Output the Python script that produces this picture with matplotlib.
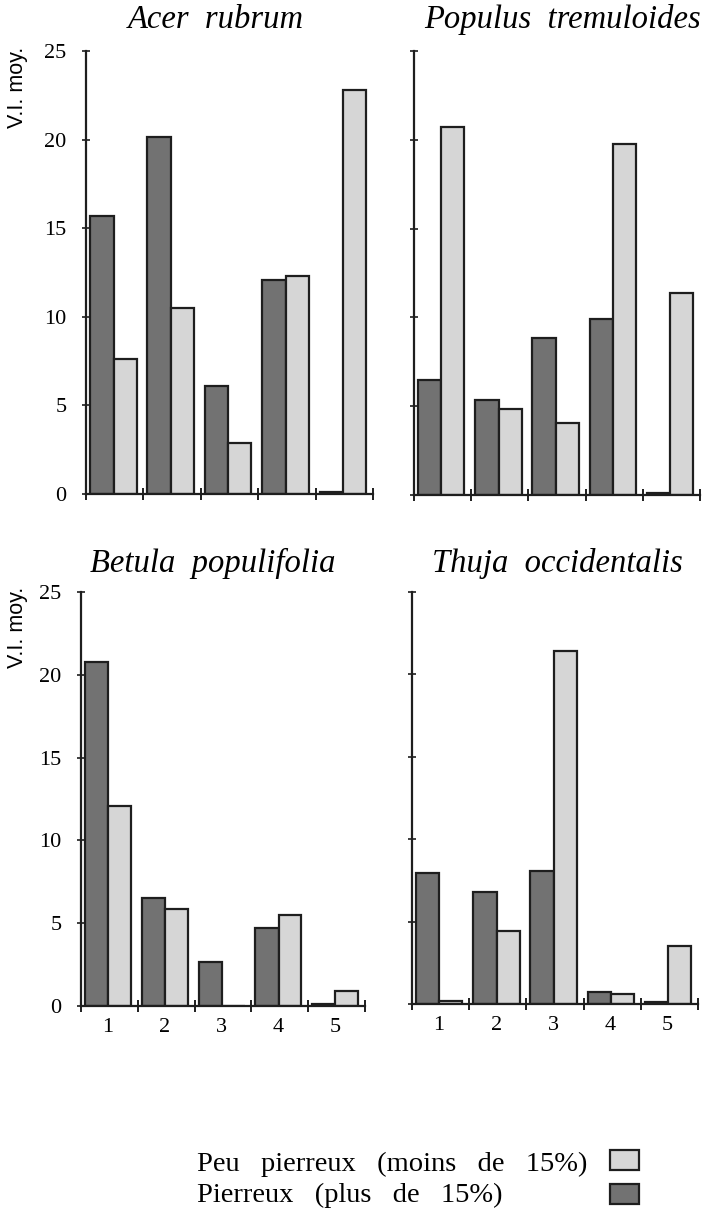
import matplotlib
matplotlib.use("Agg")
import matplotlib.pyplot as plt
from matplotlib.patches import Rectangle

# données (V.I. moyen par classe)
classes = ["1", "2", "3", "4", "5"]
especes = ["Acer  rubrum", "Populus  tremuloides", "Betula  populifolia", "Thuja  occidentalis"]

acer_pierreux = [15.7, 20.15, 6.1, 12.05, 0.1]
acer_peu = [7.6, 10.5, 2.9, 12.3, 22.8]
populus_pierreux = [6.5, 5.35, 8.85, 9.9, 0.1]
populus_peu = [20.7, 4.85, 4.05, 19.75, 11.4]
betula_pierreux = [20.8, 6.5, 2.68, 4.73, 0.1]
betula_peu = [12.08, 5.88, 0.0, 5.5, 0.92]
thuja_pierreux = [7.96, 6.8, 8.1, 0.71, 0.1]
thuja_peu = [0.2, 4.4, 21.45, 0.6, 3.5]

y_ticks = [0, 5, 10, 15, 20, 25]
label_peu = "Peu   pierreux   (moins   de   15%)"
label_pierreux = "Pierreux   (plus   de   15%)"

W, H = 704, 1214
DARK = "#727272"
LIGHT = "#d6d6d6"
EDGE = "#1e1e1e"
SERIF = "Liberation Serif"

fig = plt.figure(figsize=(W / 100, H / 100), dpi=100)
fig.patch.set_facecolor("white")


def px_axes(left, right, top, bottom):
    return fig.add_axes([left / W, 1 - bottom / H, (right - left) / W, (bottom - top) / H])


# (gauche, droite, haut, bas) en pixels
boxes = [(86, 373, 51, 494), (414, 700, 51, 495), (81, 365, 592, 1006), (412, 698, 592, 1004)]
data = [(acer_pierreux, acer_peu), (populus_pierreux, populus_peu),
        (betula_pierreux, betula_peu), (thuja_pierreux, thuja_peu)]
title_pos = [(216, 28), (563, 28), (213, 572), (557, 572)]

for k, (box, (dark, light)) in enumerate(zip(boxes, data)):
    ax = px_axes(*box)
    x = list(range(len(classes)))
    ax.bar([i + 0.07 for i in x], dark, width=0.41, align="edge",
           color=DARK, edgecolor=EDGE, linewidth=1.6, zorder=2)
    ax.bar([i + 0.48 for i in x], light, width=0.40, align="edge",
           color=LIGHT, edgecolor=EDGE, linewidth=1.6, zorder=2)
    ax.set_xlim(0, 5)
    ax.set_ylim(0, 25)
    for s in ["top", "right"]:
        ax.spines[s].set_visible(False)
    for s in ["left", "bottom"]:
        ax.spines[s].set_linewidth(1.6)
        ax.spines[s].set_color(EDGE)
    ax.set_xticks(range(6))
    ax.set_xticklabels([])
    ax.tick_params(axis="x", which="major", direction="inout", length=8, width=1.4, color=EDGE)
    ax.set_yticks(y_ticks)
    ax.tick_params(axis="y", direction="inout", length=6, width=1.2, color=EDGE)
    if k % 2 == 0:
        ax.set_yticklabels([str(v) for v in y_ticks], fontsize=16, family=SERIF)
        ax.tick_params(axis="y", pad=11)
        fig.text(18 / W, 1 - (87 if k == 0 else 627) / H, "V.I. moy.", rotation=90,
                 ha="center", va="center", fontsize=15.5, family="Liberation Sans")
    else:
        ax.set_yticklabels([])
    if k >= 2:
        ax.set_xticks([i + 0.47 for i in x], minor=True)
        ax.set_xticklabels(classes, minor=True, fontsize=16, family=SERIF)
        ax.tick_params(axis="x", which="minor", length=0, pad=9)
    tx, ty = title_pos[k]
    fig.text(tx / W, 1 - ty / H, especes[k], ha="center", va="baseline",
             fontsize=23.5, family=SERIF, style="italic")

# légende
fig.text(197 / W, 1 - 1171 / H, label_peu, fontsize=20.5, family=SERIF, va="baseline")
fig.text(197 / W, 1 - 1202 / H, label_pierreux, fontsize=20.5, family=SERIF, va="baseline")
for top, col in [(1150, LIGHT), (1184, DARK)]:
    fig.patches.append(Rectangle((610 / W, 1 - (top + 20) / H), 29 / W, 20 / H,
                                 transform=fig.transFigure, facecolor=col,
                                 edgecolor=EDGE, linewidth=1.6))

fig.savefig("out.png", dpi=100)
